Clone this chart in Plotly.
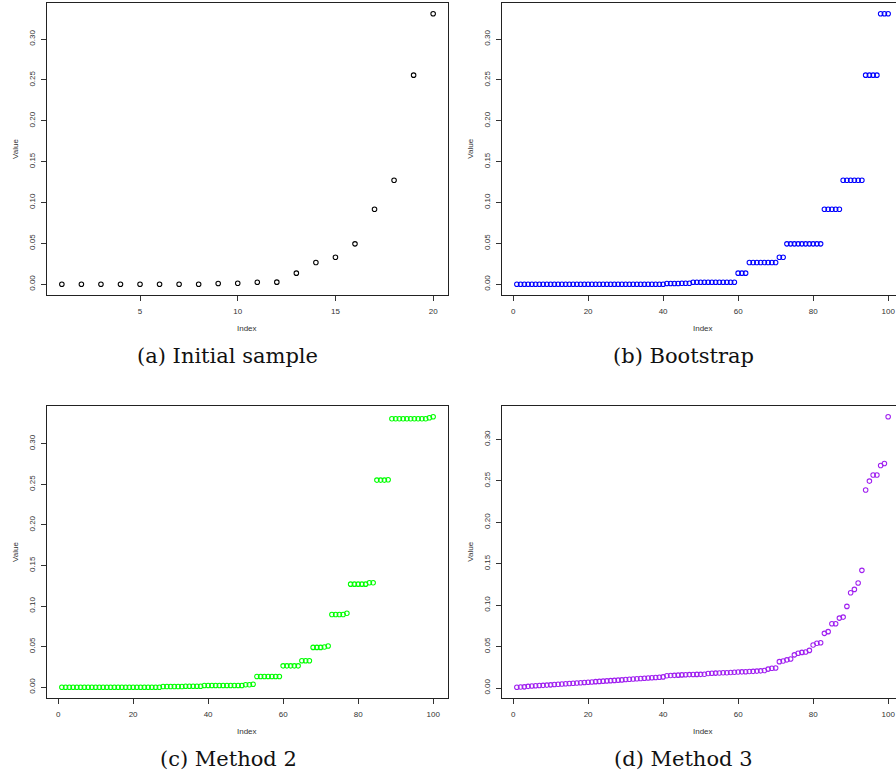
import plotly.graph_objects as go

W, H = 896, 776

# ---------------- data ----------------
initial_index = list(range(1, 21))
initial_values = [0.0, 0.0, 0.0, 0.0, 0.0, 0.0, 0.0, 0.0, 0.0008, 0.0012,
                  0.0023, 0.0025, 0.0135, 0.0265, 0.033, 0.0494, 0.0918, 0.1273, 0.2559, 0.331]

resample_index = list(range(1, 101))

bootstrap_values = [
    0.0, 0.0, 0.0, 0.0, 0.0, 0.0, 0.0, 0.0, 0.0, 0.0,
    0.0, 0.0, 0.0, 0.0, 0.0, 0.0, 0.0, 0.0, 0.0, 0.0,
    0.0, 0.0, 0.0, 0.0, 0.0, 0.0, 0.0, 0.0, 0.0, 0.0,
    0.0, 0.0, 0.0, 0.0, 0.0, 0.0, 0.0, 0.0, 0.0, 0.0,
    0.0008, 0.0008, 0.0008, 0.0008, 0.0012, 0.0012, 0.0012, 0.0024, 0.0024, 0.0024,
    0.0024, 0.0024, 0.0024, 0.0024, 0.0024, 0.0024, 0.0024, 0.0024, 0.0024, 0.0135,
    0.0135, 0.0135, 0.0265, 0.0265, 0.0265, 0.0265, 0.0265, 0.0265, 0.0265, 0.0265,
    0.033, 0.033, 0.0494, 0.0494, 0.0494, 0.0494, 0.0494, 0.0494, 0.0494, 0.0494,
    0.0494, 0.0494, 0.0918, 0.0918, 0.0918, 0.0918, 0.0918, 0.1273, 0.1273, 0.1273,
    0.1273, 0.1273, 0.1273, 0.2559, 0.2559, 0.2559, 0.2559, 0.331, 0.331, 0.331,
]

method2_values = [
    0.0, 0.0, 0.0, 0.0, 0.0, 0.0, 0.0, 0.0, 0.0, 0.0,
    0.0, 0.0, 0.0, 0.0, 0.0, 0.0, 0.0, 0.0, 0.0, 0.0,
    0.0, 0.0, 0.0, 0.0, 0.0, 0.0, 0.0, 0.0008, 0.0008, 0.0008,
    0.0008, 0.0008, 0.0008, 0.0012, 0.0012, 0.0012, 0.0012, 0.0012, 0.002, 0.002,
    0.002, 0.002, 0.002, 0.002, 0.002, 0.002, 0.002, 0.002, 0.002, 0.003,
    0.003, 0.0036, 0.0132, 0.0132, 0.0132, 0.0132, 0.0132, 0.0132, 0.0132, 0.0263,
    0.0263, 0.0263, 0.0263, 0.0263, 0.0325, 0.0325, 0.0325, 0.049, 0.049, 0.049,
    0.0495, 0.0508, 0.0896, 0.0896, 0.0896, 0.0896, 0.0912, 0.127, 0.127, 0.127,
    0.127, 0.127, 0.1287, 0.1287, 0.2552, 0.2552, 0.2552, 0.2557, 0.3309, 0.3309,
    0.3309, 0.3309, 0.3309, 0.3309, 0.3309, 0.3309, 0.3309, 0.3309, 0.332, 0.3332,
]

method3_values = [
    0.0010, 0.0012, 0.0014, 0.0020, 0.0024, 0.0027, 0.0030, 0.0032, 0.0035, 0.0038,
    0.0042, 0.0045, 0.0048, 0.0051, 0.0054, 0.0057, 0.0060, 0.0063, 0.0066, 0.0070,
    0.0073, 0.0077, 0.0080, 0.0083, 0.0086, 0.0089, 0.0092, 0.0095, 0.0098, 0.0102,
    0.0106, 0.0109, 0.0112, 0.0115, 0.0118, 0.0121, 0.0124, 0.0127, 0.0130, 0.0134,
    0.0148, 0.0151, 0.0153, 0.0155, 0.0158, 0.0160, 0.0162, 0.0163, 0.0164, 0.0165,
    0.0167, 0.0176, 0.0178, 0.0180, 0.0182, 0.0184, 0.0185, 0.0187, 0.0190, 0.0193,
    0.0195, 0.0197, 0.0199, 0.0201, 0.0204, 0.0207, 0.0212, 0.0228, 0.0238, 0.0242,
    0.0318, 0.0326, 0.0340, 0.0350, 0.0400, 0.0420, 0.0430, 0.0434, 0.0454, 0.0520,
    0.0540, 0.0547, 0.0660, 0.0680, 0.0776, 0.0776, 0.0844, 0.0856, 0.0985, 0.1150,
    0.1190, 0.1267, 0.1420, 0.2390, 0.2497, 0.2570, 0.2570, 0.2686, 0.2710, 0.3273,
]

y_tickvals = [0.0, 0.05, 0.10, 0.15, 0.20, 0.25, 0.30]
y_ticktext = ["0.00", "0.05", "0.10", "0.15", "0.20", "0.25", "0.30"]
x_ticks_initial = [5, 10, 15, 20]
x_ticks_resample = [0, 20, 40, 60, 80, 100]
captions = ["(a) Initial sample", "(b) Bootstrap", "(c) Method 2", "(d) Method 3"]
colors = ["#000000", "#0000FF", "#00FF00", "#A020F0"]
x_title = "Index"
y_title = "Value"

# --------------- layout geometry (pixels) ---------------
panels = [
    dict(x=initial_index, y=initial_values, xt=x_ticks_initial, left=47, top=3, bottom=295),
    dict(x=resample_index, y=bootstrap_values, xt=x_ticks_resample, left=502, top=3, bottom=295),
    dict(x=resample_index, y=method2_values, xt=x_ticks_resample, left=47, top=406, bottom=698),
    dict(x=resample_index, y=method3_values, xt=x_ticks_resample, left=502, top=406, bottom=698),
]
PANEL_W = 401
caption_pos = [(227.5, 356.5), (683, 356.5), (228, 758.5), (683, 758.5)]
value_label_x = [15, 469.7, 15, 469.7]
index_label_y = [328.5, 328.5, 731.5, 731.5]

AX_FONT = dict(family="Liberation Sans, Arial, sans-serif", size=8, color="#333333")


def rrange(vals):
    lo, hi = min(vals), max(vals)
    d = (hi - lo) * 0.04
    return [lo - d, hi + d]


fig = go.Figure()
annotations = []
for i, p in enumerate(panels):
    n = "" if i == 0 else str(i + 1)
    xr = rrange(p["x"])
    yr = rrange(p["y"])
    right = p["left"] + PANEL_W
    vis_right = min(right, W)
    frac = (vis_right - p["left"]) / PANEL_W
    xr_vis = [xr[0], xr[0] + (xr[1] - xr[0]) * frac]
    clipped = vis_right < right

    fig.add_trace(go.Scatter(
        x=p["x"], y=p["y"], mode="markers",
        marker=dict(symbol="circle-open", size=4.5, color=colors[i],
                    line=dict(width=1.1, color=colors[i])),
        xaxis="x" + n, yaxis="y" + n, showlegend=False, cliponaxis=True,
    ))

    fig.layout["xaxis" + n] = dict(
        domain=[p["left"] / W, vis_right / W], range=xr_vis, anchor="y" + n,
        tickvals=p["xt"], ticktext=[str(v) for v in p["xt"]],
        ticks="outside", ticklen=5, tickwidth=1, tickcolor="#333333",
        showline=True, linecolor="#222222", linewidth=1, mirror=True,
        showgrid=False, zeroline=False, tickfont=AX_FONT, ticklabelstandoff=3,
        ticklabeloverflow="allow",
    )
    fig.layout["yaxis" + n] = dict(
        domain=[1 - p["bottom"] / H, 1 - p["top"] / H], range=yr, anchor="x" + n,
        tickvals=y_tickvals, ticktext=y_ticktext, tickangle=-90,
        ticks="outside", ticklen=5, tickwidth=1, tickcolor="#333333",
        showline=True, linecolor="#222222", linewidth=1, mirror=(not clipped),
        showgrid=False, zeroline=False, tickfont=AX_FONT, ticklabelstandoff=3,
        ticklabeloverflow="allow",
    )

    cx, cy = caption_pos[i]
    annotations.append(dict(
        text=captions[i], x=cx / W, y=1 - cy / H, xref="paper", yref="paper",
        xanchor="center", yanchor="middle", showarrow=False,
        font=dict(family="DejaVu Serif, Liberation Serif, serif", size=21, color="#111111"),
    ))
    annotations.append(dict(
        text=x_title, x=(p["left"] + PANEL_W / 2) / W, y=1 - index_label_y[i] / H,
        xref="paper", yref="paper", xanchor="center", yanchor="middle",
        showarrow=False, font=AX_FONT,
    ))
    annotations.append(dict(
        text=y_title, x=value_label_x[i] / W, y=1 - (p["top"] + p["bottom"]) / 2 / H,
        xref="paper", yref="paper", xanchor="center", yanchor="middle",
        textangle=-90, showarrow=False, font=AX_FONT,
    ))

fig.update_layout(
    width=W, height=H, autosize=False,
    margin=dict(l=0, r=0, t=0, b=0, pad=0),
    paper_bgcolor="white", plot_bgcolor="white",
    annotations=annotations,
)

fig.write_html(
    "out.html",
    config={"displayModeBar": False},
    post_script="document.body.style.margin='0';document.body.style.overflow='hidden';",
)
